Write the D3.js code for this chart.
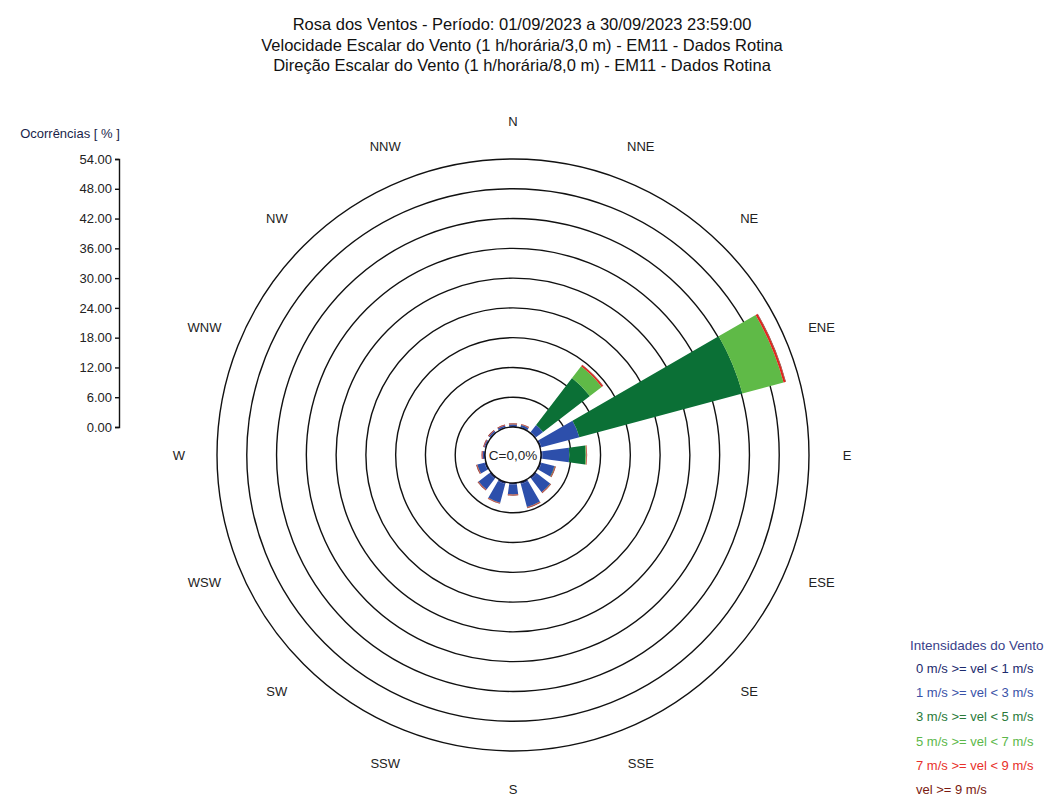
<!DOCTYPE html>
<html>
<head>
<meta charset="utf-8">
<script src="https://cdn.jsdelivr.net/npm/d3@7"></script>
<style>
  body { margin: 0; background: #fff; }
  svg text { font-family: "Liberation Sans", Arial, sans-serif; }
</style>
</head>
<body>
<div id="here"></div>
<script>
// DATA
const titleLines = [
  "Rosa dos Ventos - Período: 01/09/2023 a 30/09/2023 23:59:00",
  "Velocidade Escalar do Vento (1 h/horária/3,0 m) - EM11 - Dados Rotina",
  "Direção Escalar do Vento (1 h/horária/8,0 m) - EM11 - Dados Rotina"
];
const directions = ["N","NNE","NE","ENE","E","ESE","SE","SSE","S","SSW","SW","WSW","W","WNW","NW","NNW"];
const speedClasses = ["0 m/s >= vel < 1 m/s","1 m/s >= vel < 3 m/s","3 m/s >= vel < 5 m/s",
  "5 m/s >= vel < 7 m/s","7 m/s >= vel < 9 m/s","vel >= 9 m/s"];
const classColors = ["#1c2a6e","#2d4fab","#0b7036","#5fba47","#e3231c","#7f1c10"];
const legendTextColors = ["#1c2a6e","#3a52a8","#2a7a3a","#5cb84a","#e8302a","#7a1a10"];
// % occurrence per direction, one array per speed class
const vel0_1 = [0.2,0.2,0.2,0.3,0.3,0.3,0.4,0.4,0.3,0.4,0.4,0.3,0.2,0.2,0.2,0.2];
const vel1_3 = [0.3,0.4,1.8,7.9,5.4,2.7,3.4,4.8,2.0,3.9,2.7,1.5,0.3,0.2,0.3,0.3];
const vel3_5 = [0.05,0.05,11.9,34.0,3.3,0.1,0.05,0.05,0.05,0.05,0.05,0.05,0,0,0,0];
const vel5_7 = [0,0,3.0,8.6,0.15,0,0,0,0,0,0,0,0,0,0,0];
const vel7_9 = [0.1,0.1,0.3,0.4,0.1,0.1,0.1,0.1,0.1,0.1,0.1,0.1,0.1,0.1,0.1,0.1];
const vel9p  = [0.1,0.1,0.1,0.1,0.05,0.1,0.1,0.1,0.1,0.1,0.1,0.1,0.1,0.1,0.1,0.1];
const series = [vel0_1, vel1_3, vel3_5, vel5_7, vel7_9, vel9p];
const yTicks = [0,6,12,18,24,30,36,42,48,54];
const calmText = "C=0,0%";

// LAYOUT
const width = 1051, height = 797;
const cx = 513, cy = 455;
const rInner = 28, rOuter = 296;

const svg = d3.select("#here").append("svg")
  .attr("width", width).attr("height", height);

// title
svg.selectAll("text.title").data(titleLines).enter().append("text")
  .attr("class", "title")
  .attr("x", 522).attr("y", (d, i) => 30 + i * 20.5)
  .attr("text-anchor", "middle")
  .attr("font-size", 16.5).attr("fill", "#111")
  .text(d => d);

// radial scale: % -> px
const r = d3.scaleLinear().domain([0, 54]).range([rInner, rOuter]);

const g = svg.append("g").attr("transform", `translate(${cx},${cy})`);

// rings
g.selectAll("circle.ring").data(yTicks.slice(1)).enter().append("circle")
  .attr("class", "ring")
  .attr("r", d => r(d))
  .attr("fill", "none").attr("stroke", "#111").attr("stroke-width", 1.4);

// stacked wedges
const step = 2 * Math.PI / directions.length;
const half = step / 3;
const arc = d3.arc();
const stackData = [];
directions.forEach(function(dir, i){
  let cum = 0;
  series.forEach(function(s, k){
    if (s[i] > 0) {
      stackData.push({dir: dir, k: k, a: i * step, v0: cum, v1: cum + s[i]});
    }
    cum += s[i];
  });
});
g.selectAll("path.wedge").data(stackData).enter().append("path")
  .attr("class", "wedge")
  .attr("d", d => arc({innerRadius: r(d.v0), outerRadius: r(d.v1),
                       startAngle: d.a - half, endAngle: d.a + half}))
  .attr("fill", d => classColors[d.k]);

// calm circle
g.append("circle").attr("r", rInner)
  .attr("fill", "#fff").attr("stroke", "#111").attr("stroke-width", 1.4);
g.append("text").attr("y", 5).attr("text-anchor", "middle")
  .attr("font-size", 13.5).attr("fill", "#222").text(calmText);

// direction labels
g.selectAll("text.dir").data(directions).enter().append("text")
  .attr("class", "dir")
  .attr("x", (d, i) => 334 * Math.sin(i * step))
  .attr("y", (d, i) => -334 * Math.cos(i * step) + 4.5)
  .attr("text-anchor", "middle")
  .attr("font-size", 13).attr("fill", "#222")
  .text(d => d);

// y axis
const y = d3.scaleLinear().domain([0, 54]).range([cy - rInner, cy - rOuter]);
const yAxis = svg.append("g")
  .attr("transform", "translate(119,0)")
  .call(d3.axisLeft(y).tickValues(yTicks).tickFormat(d3.format(".2f")).tickSize(4).tickSizeOuter(4));
yAxis.selectAll("text").attr("font-size", 13).attr("fill", "#222")
  .attr("font-family", "Liberation Sans, Arial, sans-serif");
yAxis.selectAll("line, path").attr("stroke", "#111").attr("stroke-width", 1.4);
svg.append("text").attr("x", 70).attr("y", 138).attr("text-anchor", "middle")
  .attr("font-size", 13).attr("fill", "#1a1f4a").text("Ocorrências [ % ]");

// legend
svg.append("text").attr("x", 910).attr("y", 650)
  .attr("font-size", 13.5).attr("fill", "#3a3f8a").text("Intensidades do Vento");
svg.selectAll("text.leg").data(speedClasses).enter().append("text")
  .attr("class", "leg")
  .attr("x", 916).attr("y", (d, i) => 673 + i * 24.2)
  .attr("font-size", 13)
  .attr("fill", (d, i) => legendTextColors[i])
  .text(d => d);
</script>
</body>
</html>
